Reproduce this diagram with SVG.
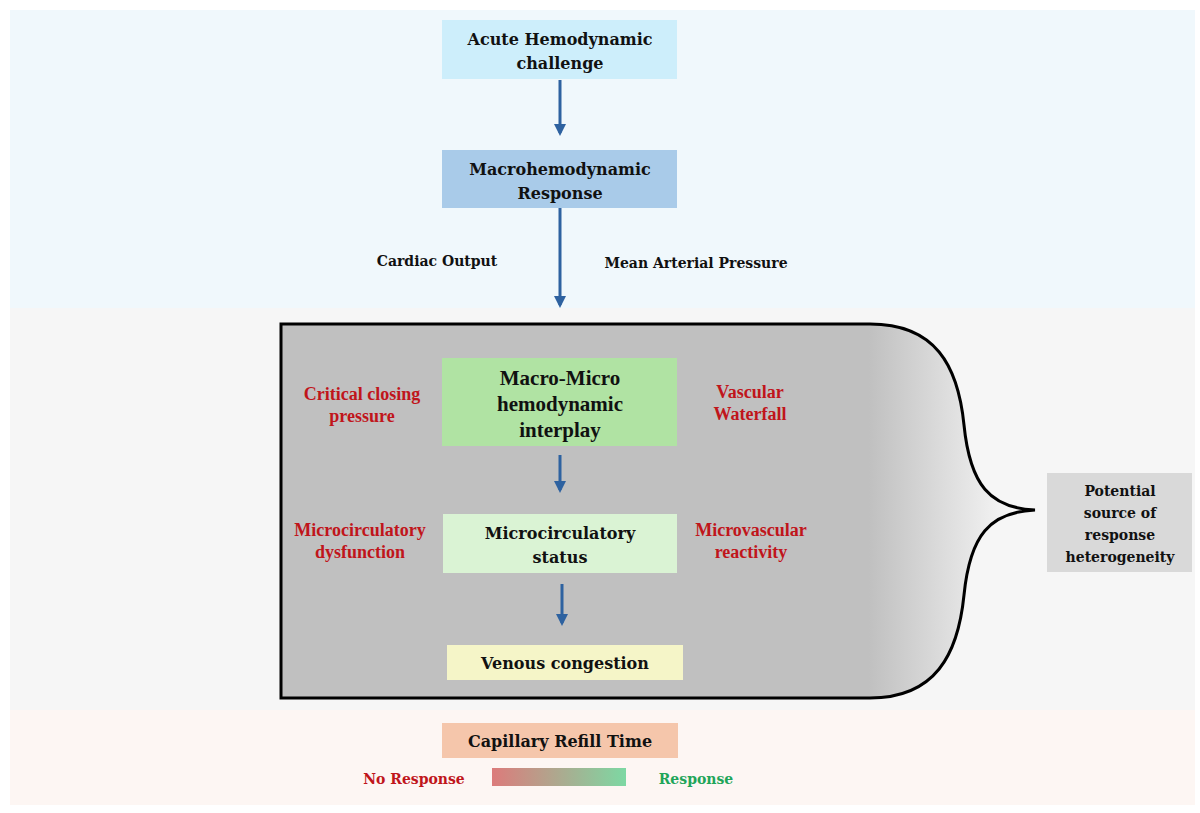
<svg xmlns="http://www.w3.org/2000/svg" width="1200" height="813" viewBox="0 0 1200 813">
<defs>
<style>
text{font-family:"DejaVu Serif","Liberation Serif",serif;font-weight:bold;text-anchor:middle}
.b{font-size:16px;fill:#111}
.r{font-size:18px;fill:#c0151b;font-family:"Liberation Serif",serif}
.c{font-family:"Liberation Serif",serif;font-size:21px;fill:#111}
.a{stroke:#2e62a0;stroke-width:3;fill:none;marker-end:url(#ah)}
</style>
<marker id="ah" markerWidth="4" markerHeight="4" refX="3" refY="2" orient="auto"><path d="M0,0 L4,2 L0,4 Z" fill="#2e62a0"/></marker>
<linearGradient id="gs" x1="0" x2="1"><stop offset="0" stop-color="#c0c0c0"/><stop offset="0.78" stop-color="#c0c0c0"/><stop offset="1" stop-color="#ffffff"/></linearGradient>
<linearGradient id="gb" x1="0" x2="1"><stop offset="0" stop-color="#dc7b7b"/><stop offset="1" stop-color="#7dd8a3"/></linearGradient>
</defs>
<rect width="1200" height="813" fill="#fff"/>
<rect x="10" y="10" width="1185" height="298" fill="#f0f8fc"/>
<rect x="10" y="308" width="1185" height="402" fill="#f6f6f6"/>
<rect x="10" y="710" width="1185" height="95" fill="#fdf6f3"/>
<g id="shape"><path d="M281,324 H870 C935,324 958,365 964,425 C970,485 990,508 1035,510 C990,512 970,535 964,595 C958,655 935,698 870,698 H281 Z" fill="url(#gs)" stroke="#000" stroke-width="3"/></g>
<g id="connectors">
<line class="a" x1="560" y1="80" x2="560" y2="133"/>
<line class="a" x1="560" y1="208" x2="560" y2="305"/>
<line class="a" x1="560" y1="455" x2="560" y2="490"/>
<line class="a" x1="562" y1="584" x2="562" y2="623"/>
</g>
<g id="n1"><rect x="442" y="20" width="235" height="59" fill="#cdeefb"/><text class="b" x="560" y="45">Acute Hemodynamic</text><text class="b" x="560" y="69">challenge</text></g>
<g id="n2"><rect x="442" y="150" width="235" height="58" fill="#a9cbe9"/><text class="b" x="560" y="175">Macrohemodynamic</text><text class="b" x="560" y="199">Response</text></g>
<g id="l1"><text class="b" x="437" y="266" style="font-size:14px">Cardiac Output</text><text class="b" x="696" y="268" style="font-size:14px">Mean Arterial Pressure</text></g>
<g id="n3"><rect x="442" y="358" width="235" height="88" fill="#b0e3a3"/><text class="c" x="560" y="385">Macro-Micro</text><text class="c" x="560" y="411">hemodynamic</text><text class="c" x="560" y="437">interplay</text></g>
<g id="l2"><text class="r" x="362" y="400">Critical closing</text><text class="r" x="362" y="422">pressure</text><text class="r" x="750" y="398">Vascular</text><text class="r" x="750" y="420">Waterfall</text></g>
<g id="n4"><rect x="443" y="514" width="234" height="59" fill="#daf3d4"/><text class="b" x="560" y="539">Microcirculatory</text><text class="b" x="560" y="563">status</text></g>
<g id="l3"><text class="r" x="360" y="536">Microcirculatory</text><text class="r" x="360" y="558">dysfunction</text><text class="r" x="751" y="536">Microvascular</text><text class="r" x="751" y="558">reactivity</text></g>
<g id="n5"><rect x="447" y="645" width="236" height="35" fill="#f5f5c8"/><text class="b" x="565" y="669">Venous congestion</text></g>
<g id="n6"><rect x="1047" y="473" width="145" height="99" fill="#d9d9d9"/><text class="b" x="1120" y="496" style="font-size:14px">Potential</text><text class="b" x="1120" y="518" style="font-size:14px">source of</text><text class="b" x="1120" y="540" style="font-size:14px">response</text><text class="b" x="1120" y="562" style="font-size:14px">heterogeneity</text></g>
<g id="n7"><rect x="442" y="723" width="236" height="35" fill="#f5c6ab"/><text class="b" x="560" y="747">Capillary Refill Time</text></g>
<g id="legend"><rect x="492" y="768" width="134" height="18" fill="url(#gb)"/><text class="b" x="414" y="784" style="font-size:14px;fill:#c0151b">No Response</text><text class="b" x="696" y="784" style="font-size:14px;fill:#1fa55a">Response</text></g>
</svg>
